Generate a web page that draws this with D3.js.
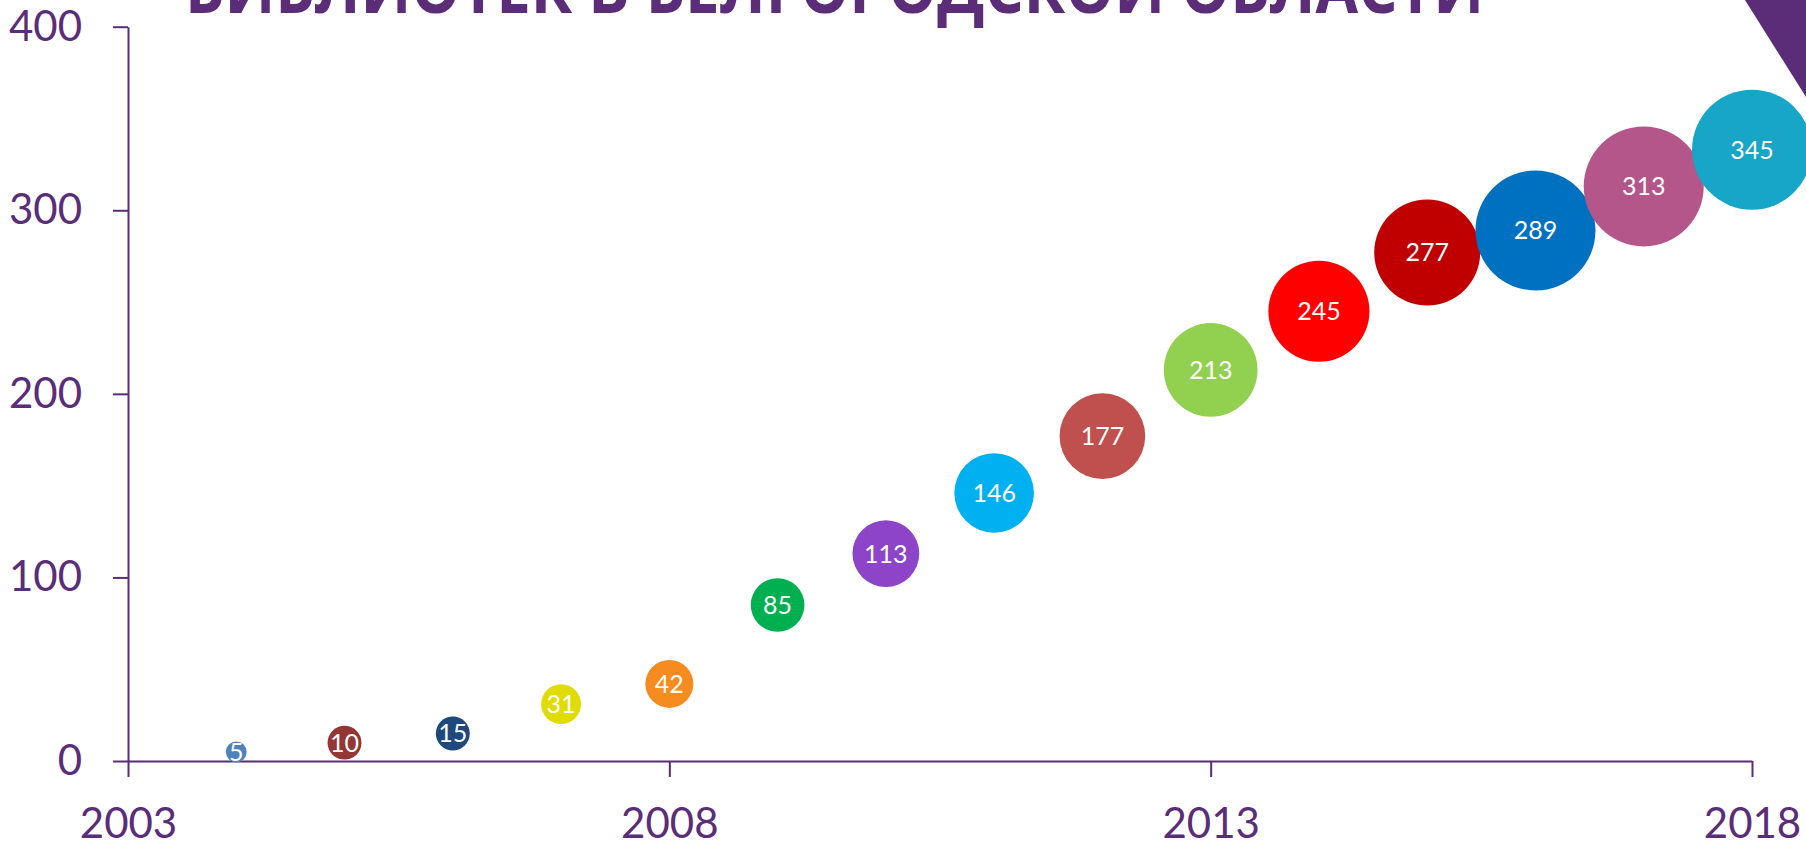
<html lang="ru">

	<head>
		<meta charset="UTF-8">
		<title>Библиотеки в Белгородской области</title>
		<style>
			body {
				margin: 0;
				background-color: #ffffff;
				overflow: hidden;
			}

			.axis path,
			.axis line {
				stroke: #5a2d78;
				stroke-width: 2px;
			}

			.axis text {
				fill: #5a2d78;
				font-family: Lato, "Open Sans", sans-serif;
				font-size: 42px;
			}

			.bubble-label {
				fill: #ffffff;
				font-family: Lato, "Open Sans", sans-serif;
				font-size: 25px;
			}

			.title {
				fill: #5b2c77;
				font-family: "Open Sans", "Noto Sans", sans-serif;
				font-weight: 700;
				font-size: 72px;
			}
		</style>
		<script src="https://d3js.org/d3.v7.min.js"></script>
	</head>

	<body>
		<div id="chart"></div>

		<script>
			// data
			const years = [2004, 2005, 2006, 2007, 2008, 2009, 2010, 2011, 2012, 2013, 2014, 2015, 2016, 2017, 2018];
			const positions = [5, 10, 15, 31, 42, 85, 113, 146, 177, 213, 245, 277, 289, 313, 333];
			const labels = ['5', '10', '15', '31', '42', '85', '113', '146', '177', '213', '245', '277', '289', '313', '345'];
			const sizes = [3, 8, 8, 11, 16, 20, 31, 44, 51, 61, 71, 78, 100, 100, 100];
			const colors = ['#4f81bd', '#943634', '#1f497d', '#e0dc00', '#f68b1f', '#00b050', '#8e44c8', '#00b0f0',
				'#c0504d', '#92d050', '#ff0000', '#c00000', '#0070c0', '#b4568a', '#17a5c8'];
			const xTicks = [2003, 2008, 2013, 2018];
			const yTicks = [0, 100, 200, 300, 400];
			const titleText = 'БИБЛИОТЕК В БЕЛГОРОДСКОЙ ОБЛАСТИ';

			var width = 1806,
				height = 844;

			var svg = d3.select("#chart").append("svg")
				.attr("width", width)
				.attr("height", height);

			var x = d3.scaleLinear()
				.domain([2003, 2018])
				.range([128, 1752]);

			var y = d3.scaleLinear()
				.domain([0, 400])
				.range([761, 26.7]);

			var r = d3.scaleSqrt()
				.domain([0, 100])
				.range([0, 60]);

			// title line, cut by the top edge
			svg.append("text")
				.attr("class", "title")
				.attr("x", 185)
				.attr("y", 13)
				.attr("textLength", 1299)
				.attr("lengthAdjust", "spacingAndGlyphs")
				.text(titleText);

			var xAxis = d3.axisBottom(x)
				.tickValues(xTicks)
				.tickFormat(d3.format("d"))
				.tickSize(16)
				.tickSizeOuter(0)
				.tickPadding(31);

			var yAxis = d3.axisLeft(y)
				.tickValues(yTicks)
				.tickSize(15)
				.tickSizeOuter(0)
				.tickPadding(31);

			svg.append("g")
				.attr("class", "x axis")
				.attr("transform", "translate(0," + y(0) + ")")
				.call(xAxis);

			svg.append("g")
				.attr("class", "y axis")
				.attr("transform", "translate(" + x(2003) + ",0)")
				.call(yAxis);

			svg.selectAll(".domain").attr("fill", "none");

			var data = years.map((d, i) => ({
				year: d,
				value: positions[i],
				label: labels[i],
				size: sizes[i],
				color: colors[i]
			}));

			var bubbles = svg.append("g")
				.selectAll("g")
				.data(data)
				.enter().append("g")
				.attr("transform", d => "translate(" + x(d.year) + "," + y(d.value) + ")");

			bubbles.append("circle")
				.attr("r", d => r(d.size))
				.attr("fill", d => d.color);

			bubbles.append("text")
				.attr("class", "bubble-label")
				.attr("text-anchor", "middle")
				.attr("dy", "0.36em")
				.text(d => d.label);

			// purple corner triangle
			svg.append("path")
				.attr("d", d3.line()([[1745, 0], [width, 0], [width, 97]]) + "Z")
				.attr("fill", "#5b2c77");
		</script>
	</body>

</html>
